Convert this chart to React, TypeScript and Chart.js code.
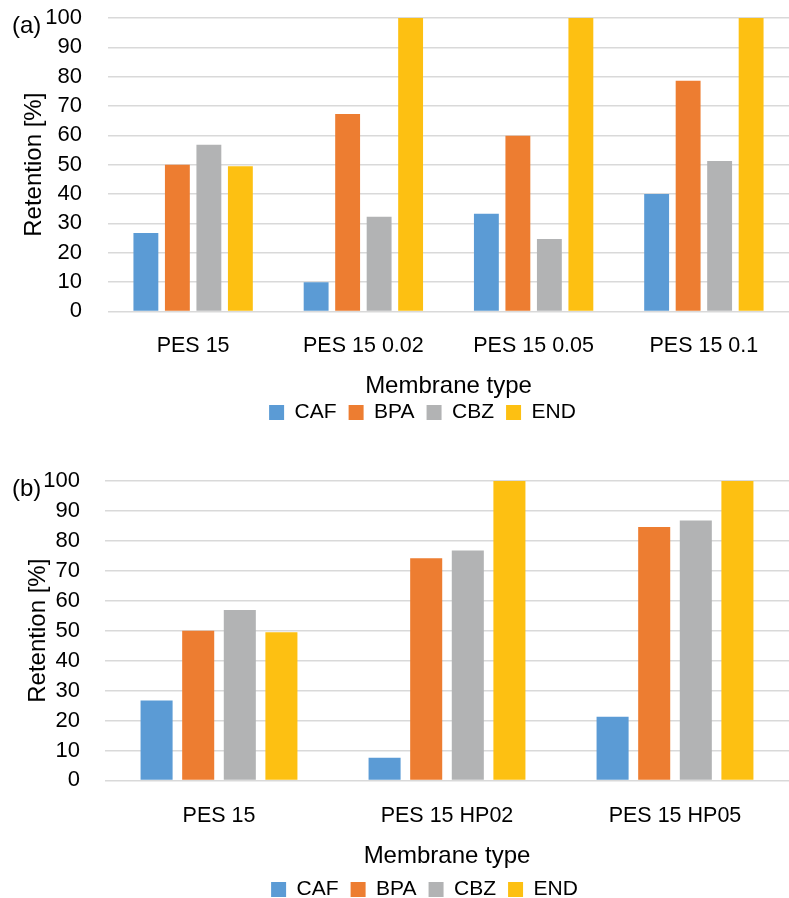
import React, { useEffect, useRef } from "react";
import { Chart, registerables } from "chart.js";

Chart.register(...registerables);

// ---- data ----
const seriesNames = ["CAF", "BPA", "CBZ", "END"];
const seriesColors = ["#5B9BD5", "#ED7D31", "#B2B3B4", "#FDC012"];

const categoriesA = ["PES 15", "PES 15 0.02", "PES 15 0.05", "PES 15 0.1"];
const cafA = [26.7, 9.9, 33.3, 40.0];
const bpaA = [50.0, 67.3, 59.9, 78.6];
const cbzA = [56.8, 32.3, 24.7, 51.3];
const endA = [49.5, 100, 100, 100];

const categoriesB = ["PES 15", "PES 15 HP02", "PES 15 HP05"];
const cafB = [26.7, 7.6, 21.3];
const bpaB = [50.0, 74.2, 84.6];
const cbzB = [56.9, 76.8, 86.8];
const endB = [49.5, 100, 100];

const yMin = 0;
const yMax = 100;
const yStep = 10;
const xTitle = "Membrane type";
const yTitle = "Retention [%]";

const FONT = "'Liberation Sans', Arial, sans-serif";

type Cfg = {
  top: number;
  left: number;
  yWidth: number;
  yTick: number;
  xTick: number;
  xTitlePad: number;
  catPct: number;
  barPct: number;
  legendDx: number;
  legendDy: number;
};

const legendShift = {
  id: "legendShift",
  afterLayout(chart: any, _args: any, opts: any) {
    const lg = chart.legend;
    if (!lg || !opts) return;
    const dx = opts.dx || 0;
    const dy = opts.dy || 0;
    lg.left += dx;
    lg.right += dx;
    lg.top += dy;
    lg.bottom += dy;
  },
};

function buildChart(canvas: HTMLCanvasElement, categories: string[], series: number[][], cfg: Cfg) {
  return new Chart(canvas, {
    type: "bar",
    data: {
      labels: categories,
      datasets: series.map((vals, i) => ({
        label: seriesNames[i],
        data: vals,
        backgroundColor: seriesColors[i],
        borderWidth: 0,
        categoryPercentage: cfg.catPct,
        barPercentage: cfg.barPct,
      })),
    },
    plugins: [legendShift],
    options: {
      animation: false,
      responsive: true,
      maintainAspectRatio: false,
      layout: { padding: { top: cfg.top, left: cfg.left, right: 0, bottom: 0 } },
      plugins: {
        legend: {
          position: "bottom",
          labels: {
            boxWidth: 15,
            boxHeight: 15,
            padding: 12,
            color: "#000",
            font: { family: FONT, size: 21 },
          },
        },
        tooltip: { enabled: false },
        legendShift: { dx: cfg.legendDx, dy: cfg.legendDy },
      } as any,
      scales: {
        x: {
          grid: {
            display: true,
            drawOnChartArea: false,
            drawTicks: true,
            tickLength: cfg.xTick,
            tickColor: "rgba(0,0,0,0)",
            color: "rgba(0,0,0,0)",
          },
          border: { display: false },
          ticks: { color: "#000", padding: 0, font: { family: FONT, size: 21.5 }, maxRotation: 0, autoSkip: false },
          title: {
            display: true,
            text: xTitle,
            color: "#000",
            font: { family: FONT, size: 24 },
            padding: { top: cfg.xTitlePad, bottom: 0 },
          },
        },
        y: {
          min: yMin,
          max: yMax,
          afterFit: (scale: any) => {
            scale.width = cfg.yWidth;
          },
          ticks: {
            stepSize: yStep,
            color: "#000",
            padding: 0,
            autoSkip: false,
            font: { family: FONT, size: 22 },
          },
          grid: {
            color: "#D9D9D9",
            lineWidth: 1.5,
            drawTicks: true,
            tickLength: cfg.yTick,
            tickColor: "rgba(0,0,0,0)",
          },
          border: { display: false },
          title: {
            display: true,
            text: yTitle,
            color: "#000",
            font: { family: FONT, size: 24 },
            padding: { top: 4, bottom: 0 },
          },
        },
      },
    },
  } as any);
}

function Panel(props: {
  top: number;
  height: number;
  label: string;
  labelTop: number;
  categories: string[];
  series: number[][];
  cfg: Cfg;
}) {
  const ref = useRef<HTMLCanvasElement | null>(null);
  useEffect(() => {
    if (!ref.current) return;
    const ch = buildChart(ref.current, props.categories, props.series, props.cfg);
    return () => ch.destroy();
  }, []);
  return (
    <div style={{ position: "absolute", left: 0, top: props.top, width: 789, height: props.height }}>
      <canvas ref={ref} />
      <div
        style={{
          position: "absolute",
          left: 12,
          top: props.labelTop,
          fontFamily: FONT,
          fontSize: 24,
          color: "#000",
          lineHeight: 1,
        }}
      >
        {props.label}
      </div>
    </div>
  );
}

export default function App() {
  return (
    <div
      style={{
        position: "fixed",
        left: 0,
        top: 0,
        width: 789,
        height: 898,
        background: "#fff",
        overflow: "hidden",
      }}
    >
      <Panel
        top={0}
        height={444}
        label="(a)"
        labelTop={13}
        categories={categoriesA}
        series={[cafA, bpaA, cbzA, endA]}
        cfg={{
          top: 18,
          left: 16,
          yWidth: 92,
          yTick: 26,
          xTick: 22,
          xTitlePad: 13,
          catPct: 0.74,
          barPct: 0.79,
          legendDx: 20,
          legendDy: -11,
        }}
      />
      <Panel
        top={440}
        height={474}
        label="(b)"
        labelTop={36}
        categories={categoriesB}
        series={[cafB, bpaB, cbzB, endB]}
        cfg={{
          top: 41,
          left: 20,
          yWidth: 85,
          yTick: 25,
          xTick: 23,
          xTitlePad: 13,
          catPct: 0.73,
          barPct: 0.77,
          legendDx: 20,
          legendDy: -4,
        }}
      />
    </div>
  );
}
